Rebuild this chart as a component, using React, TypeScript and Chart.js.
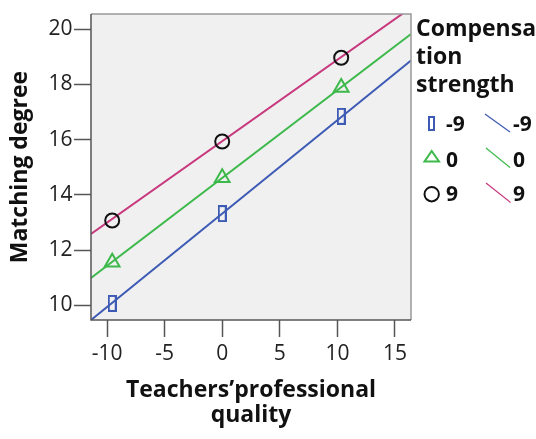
import React, { useEffect, useRef } from "react";
import { Chart, registerables } from "chart.js";
Chart.register(...registerables);

// ---- data ----
const xValues = [-9.55, 0, 10.33];
const seriesLabels = ["-9", "0", "9"];
const valuesLow = [10.07, 13.32, 16.84];
const valuesMid = [11.56, 14.62, 17.88];
const valuesHigh = [13.07, 15.93, 18.96];
const fitIntercepts = [13.32, 14.61, 15.94];
const fitSlopes = [0.338, 0.3177, 0.2948];
const xTicks = [-10, -5, 0, 5, 10, 15];
const yTicks = [10, 12, 14, 16, 18, 20];
const xRange = [-11.39, 16.39];
const yRange = [9.47, 20.54];

const FONT = "'Open Sans', sans-serif";
const BLUE = "#3d5ab4";
const GREEN = "#3cb94a";
const PINK = "#c7387d";
const BLACK = "#111111";

function makeRectMarker(): HTMLCanvasElement {
  const c = document.createElement("canvas");
  c.width = 9;
  c.height = 17;
  const ctx = c.getContext("2d")!;
  ctx.strokeStyle = BLUE;
  ctx.lineWidth = 2;
  ctx.strokeRect(1, 1, 7, 15);
  return c;
}

const plotFrame = {
  id: "plotFrame",
  beforeDraw(chart: any) {
    const { ctx, chartArea: a } = chart;
    ctx.save();
    ctx.fillStyle = "#f0f0f0";
    ctx.fillRect(a.left, a.top, a.right - a.left, a.bottom - a.top);
    ctx.restore();
  },
  afterDraw(chart: any) {
    const { ctx, chartArea: a } = chart;
    ctx.save();
    ctx.lineWidth = 1.5;
    ctx.strokeStyle = "#999999";
    ctx.beginPath();
    ctx.moveTo(a.left, a.top);
    ctx.lineTo(a.right, a.top);
    ctx.lineTo(a.right, a.bottom);
    ctx.stroke();
    ctx.strokeStyle = "#555555";
    ctx.beginPath();
    ctx.moveTo(a.left, a.top);
    ctx.lineTo(a.left, a.bottom);
    ctx.lineTo(a.right, a.bottom);
    ctx.stroke();
    ctx.restore();
  },
};

export default function App() {
  const ref = useRef<HTMLCanvasElement>(null);

  useEffect(() => {
    const rectMarker = makeRectMarker();
    const pts = (vals: number[]) => xValues.map((x, i) => ({ x, y: vals[i] }));
    const fit = (i: number) => xRange.map((x) => ({ x, y: fitIntercepts[i] + fitSlopes[i] * x }));
    const lineColors = [BLUE, GREEN, PINK];

    const chart = new Chart(ref.current!, {
      type: "scatter",
      data: {
        datasets: [
          {
            label: seriesLabels[0],
            data: pts(valuesLow),
            pointStyle: rectMarker as any,
            pointRadius: 8,
            showLine: false,
          },
          {
            label: seriesLabels[1],
            data: pts(valuesMid),
            pointStyle: "triangle",
            pointRadius: 8.5,
            pointBorderColor: GREEN,
            pointBackgroundColor: "rgba(0,0,0,0)",
            pointBorderWidth: 2,
            showLine: false,
          },
          {
            label: seriesLabels[2],
            data: pts(valuesHigh),
            pointStyle: "circle",
            pointRadius: 7,
            pointBorderColor: BLACK,
            pointBackgroundColor: "rgba(0,0,0,0)",
            pointBorderWidth: 2,
            showLine: false,
          },
          ...[0, 1, 2].map((i) => ({
            label: "fit " + seriesLabels[i],
            data: fit(i),
            showLine: true,
            borderColor: lineColors[i],
            borderWidth: 2,
            pointRadius: 0,
          })),
        ],
      },
      options: {
        responsive: false,
        animation: false,
        devicePixelRatio: 1,
        layout: { padding: { left: 0, top: 8, right: 125, bottom: 0 } },
        plugins: { legend: { display: false }, tooltip: { enabled: false } },
        scales: {
          x: {
            type: "linear",
            min: xRange[0],
            max: xRange[1],
            afterFit: (s: any) => {
              s.height = 119;
            },
            afterBuildTicks: (s: any) => {
              s.ticks = xTicks.map((v) => ({ value: v }));
            },
            grid: {
              drawOnChartArea: false,
              drawTicks: true,
              tickLength: 17,
              tickWidth: 1.5,
              tickColor: "#555555",
            },
            border: { display: false },
            ticks: {
              padding: 4,
              color: "#222222",
              font: { family: FONT, size: 21 },
              maxRotation: 0,
            },
            title: {
              display: true,
              text: ["Teachers\u2019professional", "quality"],
              color: "#111111",
              font: { family: FONT, size: 23, weight: "bold", lineHeight: 25 / 23 },
              padding: { top: 0, bottom: 11 },
            },
          },
          y: {
            type: "linear",
            min: yRange[0],
            max: yRange[1],
            afterFit: (s: any) => {
              s.width = 91;
            },
            afterBuildTicks: (s: any) => {
              s.ticks = yTicks.map((v) => ({ value: v }));
            },
            grid: {
              drawOnChartArea: false,
              drawTicks: true,
              tickLength: 17,
              tickWidth: 1.5,
              tickColor: "#555555",
            },
            border: { display: false },
            ticks: {
              padding: 1.5,
              color: "#222222",
              font: { family: FONT, size: 21 },
            },
            title: {
              display: true,
              text: "Matching degree",
              color: "#111111",
              font: { family: FONT, size: 23, weight: "bold", lineHeight: 1.2 },
              padding: { top: 7, bottom: 0 },
            },
          },
        },
      },
      plugins: [plotFrame],
    } as any);
    return () => chart.destroy();
  }, []);

  const labelStyle = (left: number, top: number): React.CSSProperties => ({
    position: "absolute",
    left,
    top,
    font: `bold 21px/21px ${FONT}`,
    color: "#111",
    whiteSpace: "pre",
  });
  const rowTops = [113, 149, 183];

  return (
    <div style={{ position: "absolute", left: 0, top: 0, width: 536, height: 439, overflow: "hidden", background: "#fff" }}>
      <canvas ref={ref} width={536} height={439} style={{ width: 536, height: 439, display: "block" }} />
      <div
        style={{
          position: "absolute",
          left: 416,
          top: 13,
          font: `bold 23px/28px ${FONT}`,
          color: "#111",
          whiteSpace: "pre",
        }}
      >
        <div>Compensa</div>
        <div>tion</div>
        <div>strength</div>
      </div>
      <svg width={536} height={439} style={{ position: "absolute", left: 0, top: 0, pointerEvents: "none" }}>
        <rect x={429} y={117} width={5} height={13} fill="none" stroke={BLUE} strokeWidth={2} />
        <polygon points="424.5,161.5 439,161.5 431.7,151" fill="none" stroke={GREEN} strokeWidth={2} />
        <circle cx={431.7} cy={194.2} r={7.2} fill="none" stroke={BLACK} strokeWidth={2} />
        <line x1={485} y1={114} x2={510} y2={132} stroke={BLUE} strokeWidth={1.2} />
        <line x1={486} y1={148} x2={510} y2={167.5} stroke={GREEN} strokeWidth={1.2} />
        <line x1={486} y1={183} x2={510.5} y2={202.5} stroke={PINK} strokeWidth={1.2} />
      </svg>
      <div style={labelStyle(446, rowTops[0])}>{seriesLabels[0]}</div>
      <div style={labelStyle(446, rowTops[1])}>{seriesLabels[1]}</div>
      <div style={labelStyle(446, rowTops[2])}>{seriesLabels[2]}</div>
      <div style={labelStyle(513, rowTops[0])}>{seriesLabels[0]}</div>
      <div style={labelStyle(513, rowTops[1])}>{seriesLabels[1]}</div>
      <div style={labelStyle(513, rowTops[2])}>{seriesLabels[2]}</div>
    </div>
  );
}
